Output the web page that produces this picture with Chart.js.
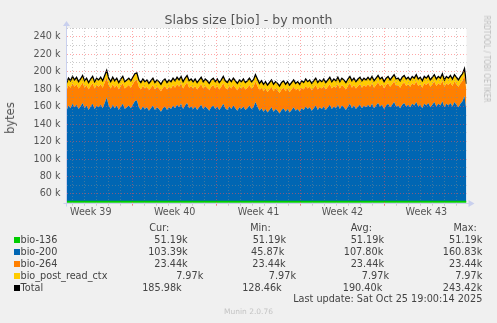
<!DOCTYPE html>
<html><head><meta charset="utf-8">
<script src="https://cdn.jsdelivr.net/npm/chart.js@4.4.0/dist/chart.umd.min.js"></script>
<style>
html,body{margin:0;padding:0;background:#f0f0f0;}
#wrap{position:relative;width:497px;height:323px;overflow:hidden;font-family:'DejaVu Sans',sans-serif;color:#444;}
#c{position:absolute;left:0;top:0;}
.t{position:absolute;white-space:nowrap;line-height:12px;height:12px;font-size:9.7px;}
.sq{position:absolute;width:6px;height:6px;}
</style></head><body>
<div id="wrap">
<canvas id="c" width="497" height="323"></canvas>
</div>
<script>
// ---------- data ----------
const titleText = 'Slabs size [bio] - by month';
const yAxisLabel = 'bytes';
const weekLabels = ['Week 39', 'Week 40', 'Week 41', 'Week 42', 'Week 43'];
// bio-200 samples across the month, in k (thousands of bytes)
const bio200k = [
  104, 110, 107, 112, 108,
  111, 106, 109, 113, 107, 110, 105, 109, 112, 106, 110, 108,
  111, 107, 113, 119, 110,
  106, 111, 107, 110, 105, 109, 112, 106, 108, 110,
  107, 111, 115, 116,
  108, 105, 109, 106, 108, 104, 107, 110, 105, 108, 106, 103, 107, 109, 105, 108, 106,
  110, 107, 111, 108, 112, 106, 110, 113, 107, 109,
  106, 109, 105, 108, 111, 106, 109, 107, 104, 108, 110, 106, 109, 105, 108, 112,
  107, 105, 109, 106, 110, 107, 104, 108, 106, 109, 105, 107, 110, 106, 108,
  114, 109,
  104, 107, 103, 106, 102, 105, 108, 103, 106, 104, 101, 105, 107, 103, 106, 102,
  105, 108, 104, 106, 103, 107,
  105, 109, 106, 108, 104, 107, 110, 105, 108, 106, 109, 105, 108, 111, 106,
  109, 107, 111, 106, 110, 108, 105, 109, 112, 107, 110, 106, 109, 111, 107, 110, 108,
  111, 108, 112, 107, 110, 113, 109, 111, 106, 110, 112, 108, 111, 114, 109, 110, 107, 111,
  113, 109, 111, 108, 112, 110, 114, 109, 111, 107, 112, 110, 113, 108, 111,
  114, 109, 112, 110, 115, 108, 112, 110, 113, 109, 114, 111, 108, 112, 115,
  121, 103.39
];
const bio136k = 51.19;          // constant (cur = min = avg = max)
const bio264k = 23.44;          // constant
const bioPostk = 7.97;          // constant

const legendNames = ['bio-136', 'bio-200', 'bio-264', 'bio_post_read_ctx', 'Total'];
const curText = ['51.19k', '103.39k', '23.44k', '7.97k', '185.98k'];
const minText = ['51.19k', '45.87k', '23.44k', '7.97k', '128.46k'];
const avgText = ['51.19k', '107.80k', '23.44k', '7.97k', '190.40k'];
const maxText = ['51.19k', '160.83k', '23.44k', '7.97k', '243.42k'];
const lastUpdate = 'Last update: Sat Oct 25 19:00:14 2025';
const footerText = 'Munin 2.0.76';
const watermark = 'RRDTOOL / TOBI OETIKER';

// ---------- styles / layout ----------
const colors = ['#00cc00', '#0066b3', '#ff8000', '#ffcc00', '#000000'];
const spanHours = 801;            // width of the month view in hours
const firstDayLine = 12.6;        // first midnight after start (hours)
const firstWeekLine = 132.6;      // first week boundary (hours)
const GRID_MINOR = 'rgba(140,140,140,0.45)';
const GRID_MAJOR = 'rgba(255,80,80,0.5)';
const AXIS = '#c9d0ee';

const n = bio200k.length;
const hours = bio200k.map((_, i) => i * spanHours / (n - 1));
const toPts = arr => arr.map((v, i) => ({ x: hours[i], y: v * 1000 }));
const s136 = bio200k.map(() => bio136k);
const s264 = bio200k.map(() => bio264k);
const sPost = bio200k.map(() => bioPostk);
const sTotal = bio200k.map((v, i) => s136[i] + v + s264[i] + sPost[i]);

const dayTicks = [];
for (let h = firstDayLine; h <= spanHours; h += 24) dayTicks.push(h);
const weekCenters = weekLabels.map((_, w) => firstWeekLine - 84 + 168 * w);
const isWeekLine = v => {
  const r = ((v - firstWeekLine) % 168 + 168) % 168;
  return r < 0.01 || r > 167.99;
};
const weekIdx = v => weekCenters.findIndex(c => Math.abs(c - v) < 0.01);

const plotPlugin = {
  id: 'plotbg',
  beforeDraw(chart) {
    const { ctx, chartArea: a } = chart;
    ctx.save();
    ctx.fillStyle = '#ffffff';
    ctx.fillRect(a.left, a.top, a.right - a.left, a.bottom - a.top);
    ctx.restore();
  },
  afterDraw(chart) {
    const { ctx, chartArea: a } = chart;
    ctx.save();
    ctx.strokeStyle = AXIS; ctx.fillStyle = AXIS; ctx.lineWidth = 1;
    const x0 = Math.round(a.left) - 0.5, y0 = Math.round(a.bottom) + 0.5;
    ctx.beginPath();
    ctx.moveTo(x0, y0 + 3); ctx.lineTo(x0, a.top - 3);
    ctx.moveTo(x0 - 3, y0); ctx.lineTo(a.right + 3, y0);
    ctx.stroke();
    ctx.beginPath();
    ctx.moveTo(x0 - 3.5, a.top - 2); ctx.lineTo(x0 + 3.5, a.top - 2); ctx.lineTo(x0, a.top - 7); ctx.closePath(); ctx.fill();
    ctx.beginPath();
    ctx.moveTo(a.right + 2, y0 - 3.5); ctx.lineTo(a.right + 2, y0 + 3.5); ctx.lineTo(a.right + 8, y0); ctx.closePath(); ctx.fill();
    ctx.restore();
  }
};

const areaDs = (label, data, color, fill, bw) => ({
  label, data: toPts(data), backgroundColor: color, borderColor: color,
  borderWidth: bw, pointRadius: 0, tension: 0, fill
});

new Chart(document.getElementById('c'), {
  type: 'line',
  data: {
    datasets: [
      areaDs('bio-136', s136, colors[0], 'origin', 2),
      areaDs('bio-200', bio200k, colors[1], '-1', 0),
      areaDs('bio-264', s264, colors[2], '-1', 0),
      areaDs('bio_post_read_ctx', sPost, colors[3], '-1', 0),
      { label: 'Total', data: toPts(sTotal), stack: 'total', order: -1, borderColor: colors[4],
        borderWidth: 1.3, pointRadius: 0, tension: 0, fill: false }
    ]
  },
  options: {
    responsive: false, animation: false, devicePixelRatio: 1,
    layout: { padding: { left: 0, right: 30.5, top: 28, bottom: 100.3 } },
    plugins: { legend: { display: false }, tooltip: { enabled: false }, title: { display: false } },
    scales: {
      x: {
        type: 'linear', min: 0, max: spanHours,
        afterBuildTicks(s) {
          s.ticks = dayTicks.concat(weekCenters).sort((a, b) => a - b).map(v => ({ value: v }));
        },
        afterFit(s) { s.height = 20; },
        ticks: {
          autoSkip: false, maxRotation: 0, minRotation: 0, padding: 1, color: '#555',
          font: { family: 'DejaVu Sans', size: 9.6 },
          callback(v) { const i = weekIdx(v); return i >= 0 ? weekLabels[i] : ''; }
        },
        grid: {
          z: 1, drawTicks: true, tickLength: 3, lineWidth: 1,
          color(ctx) {
            const v = ctx.tick && ctx.tick.value;
            if (v === undefined || weekIdx(v) >= 0) return 'rgba(0,0,0,0)';
            return isWeekLine(v) ? GRID_MAJOR : GRID_MINOR;
          },
          tickColor(ctx) {
            const v = ctx.tick && ctx.tick.value;
            if (v === undefined || weekIdx(v) >= 0) return 'rgba(0,0,0,0)';
            return isWeekLine(v) ? '#f08080' : '#c8c8c8';
          }
        },
        border: { display: false, dash: [1, 2] }
      },
      y: {
        stacked: true, min: 50000, max: 250000,
        afterFit(s) { s.width = 66.5; },
        ticks: {
          stepSize: 10000, autoSkip: false, padding: 6, color: '#555',
          font: { family: 'DejaVu Sans', size: 9.6 },
          callback(v) { return (v % 20000 === 0 && v >= 60000 && v <= 240000) ? (v / 1000) + ' k' : ''; }
        },
        grid: {
          z: 1, drawTicks: false, lineWidth: 1,
          color(ctx) {
            const v = ctx.tick && ctx.tick.value;
            if (v === undefined || v === 50000) return 'rgba(0,0,0,0)';
            return v % 20000 === 0 ? GRID_MAJOR : GRID_MINOR;
          }
        },
        border: { display: false, dash: [1, 2] }
      }
    }
  },
  plugins: [plotPlugin]
});

// ---------- HTML text: title, axis label, legend, footer ----------
const wrap = document.getElementById('wrap');
function addText(txt, css) {
  const d = document.createElement('div');
  d.className = 't';
  d.textContent = txt;
  Object.assign(d.style, css);
  wrap.appendChild(d);
  return d;
}
addText(titleText, { left: '0px', width: '497px', textAlign: 'center', top: '12px', height: '15px', lineHeight: '15px', fontSize: '12.6px', color: '#555' });
addText(yAxisLabel, { left: '10px', top: '118px', fontSize: '11.5px', lineHeight: '14px', height: '14px', color: '#555', transform: 'translate(-50%,-50%) rotate(-90deg)' });
addText(watermark, { left: '487px', top: '58.5px', fontSize: '8.6px', lineHeight: '10px', height: '10px', color: '#bdbdbd', transform: 'translate(-50%,-50%) rotate(90deg) scaleX(0.785)' });

const rowY = [239.7, 251.7, 263.7, 275.7, 287.7];
const curRight = [187.7, 187.7, 187.7, 203.3, 181.7];
const minRight = [286, 284.3, 285.7, 296, 281.7];
const avgRight = [384, 383.3, 384, 389, 382.3];
const maxRight = [482.3, 482.3, 482.3, 482.3, 482.3];
const headers = [['Cur:', 169.3], ['Min:', 270.7], ['Avg:', 372], ['Max:', 476.7]];
headers.forEach(([h, r]) => addText(h, { right: (497 - r) + 'px', top: (228.3 - 6) + 'px' }));
legendNames.forEach((name, i) => {
  const y = rowY[i];
  const sq = document.createElement('div');
  sq.className = 'sq';
  Object.assign(sq.style, { left: '14px', top: (y - 3) + 'px', background: colors[i] });
  wrap.appendChild(sq);
  addText(name, { left: '20.5px', top: (y - 6) + 'px' });
  addText(curText[i], { right: (497 - curRight[i]) + 'px', top: (y - 6) + 'px' });
  addText(minText[i], { right: (497 - minRight[i]) + 'px', top: (y - 6) + 'px' });
  addText(avgText[i], { right: (497 - avgRight[i]) + 'px', top: (y - 6) + 'px' });
  addText(maxText[i], { right: (497 - maxRight[i]) + 'px', top: (y - 6) + 'px' });
});
addText(lastUpdate, { right: (497 - 482.3) + 'px', top: (299 - 6) + 'px' });
addText(footerText, { left: '0px', width: '497px', textAlign: 'center', top: (312.3 - 5) + 'px', fontSize: '7.5px', lineHeight: '10px', height: '10px', color: '#c4c4c4' });
</script>
</body></html>
